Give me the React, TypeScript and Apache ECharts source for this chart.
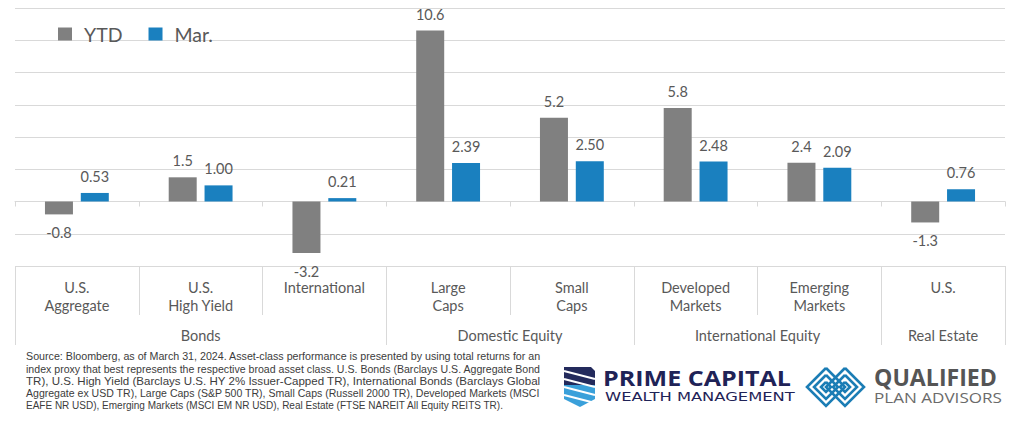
import React, { useEffect, useRef } from "react";
import * as echarts from "echarts";

const categories = [
  "U.S.\nAggregate",
  "U.S.\nHigh Yield",
  "International",
  "Large\nCaps",
  "Small\nCaps",
  "Developed\nMarkets",
  "Emerging\nMarkets",
  "U.S.",
];
const groupNames = ["Bonds", "Domestic Equity", "International Equity", "Real Estate"];
const groupSpans = [3, 2, 2, 1];
const ytdValues = [-0.8, 1.5, -3.2, 10.6, 5.2, 5.8, 2.4, -1.3];
const marValues = [0.53, 1.0, 0.21, 2.39, 2.5, 2.48, 2.09, 0.76];
const seriesNames = ["YTD", "Mar."];
const yMin = -4;
const yMax = 12;
const yInterval = 2;
const sourceLines = [
  "Source: Bloomberg, as of March 31, 2024. Asset-class performance is presented by using total returns for an",
  "index proxy that best represents the respective broad asset class. U.S. Bonds (Barclays U.S. Aggregate Bond",
  "TR), U.S. High Yield (Barclays U.S. HY 2% Issuer-Capped TR), International Bonds (Barclays Global",
  "Aggregate ex USD TR), Large Caps (S&P 500 TR), Small Caps (Russell 2000 TR), Developed Markets (MSCI",
  "EAFE NR USD), Emerging Markets (MSCI EM NR USD), Real Estate (FTSE NAREIT All Equity REITS TR).",
];

const GRAY = "#808080";
const BLUE = "#1A80BF";
const TEXT = "#595959";
const LINE = "#D9D9D9";
const FONT = "Lato";

function measure(text: string, font: string): number {
  try {
    const c = document.createElement("canvas").getContext("2d");
    if (!c) return 0;
    c.font = font;
    return c.measureText(text).width;
  } catch (e) {
    return 0;
  }
}

export default function App() {
  const ref = useRef<HTMLDivElement>(null);
  useEffect(() => {
    document.body.style.margin = "0";
    if (!ref.current) return;
    const chart = echarts.init(ref.current, null, { renderer: "svg" });

    const n = categories.length;
    const groupData: string[] = new Array(2 * n + 1).fill("");
    const boundarySet = new Set<number>();
    const labelSet = new Set<number>();
    let start = 0;
    boundarySet.add(0);
    groupSpans.forEach((span, i) => {
      const end = start + span;
      groupData[start + end] = groupNames[i];
      labelSet.add(start + end);
      boundarySet.add(end * 2);
      start = end;
    });

    const mkData = (vals: number[], digits: number) =>
      vals.map((v) => ({
        value: v,
        label: {
          position: v < 0 ? "bottom" : "top",
          distance: v < 0 ? 11 : 9,
          formatter: () => v.toFixed(digits),
        },
      }));

    const gridLeft = 15;
    const gridRight = 19;

    const graphic: any[] = [];
    const srcFont = '10px "Liberation Sans"';
    const srcWidth = 515;
    sourceLines.forEach((t, i) => {
      let sx = 1;
      if (i < sourceLines.length - 1) {
        const w = measure(t, srcFont);
        if (w > 0) sx = Math.min(1.2, srcWidth / w);
      }
      graphic.push({
        type: "text",
        x: 26,
        y: 357 + i * 12.2,
        scaleX: sx,
        style: {
          text: t,
          fill: "#3c3c3c",
          font: srcFont,
          verticalAlign: "middle",
          align: "left",
        },
      });
    });
    // Prime Capital shield
    graphic.push({
      type: "polygon",
      shape: { points: [[564, 367], [591, 367], [595, 371], [595, 385], [564, 385]] },
      style: { fill: "#232A5C" },
    });
    graphic.push({
      type: "polygon",
      shape: { points: [[564, 385], [595, 385], [595, 399], [580, 407], [564, 399]] },
      style: { fill: "#3AA0DA" },
    });
    [371, 379, 387, 395].forEach((y0) => {
      graphic.push({
        type: "line",
        shape: { x1: 564, y1: y0, x2: 595, y2: y0 + 8 },
        style: { stroke: "#ffffff", lineWidth: 2.2 },
      });
    });
    const pcFont = 'bold 22px "Open Sans"';
    const pcW = measure("PRIME CAPITAL", pcFont);
    graphic.push({
      type: "text",
      x: 603,
      y: 378,
      scaleX: pcW > 0 ? 188 / pcW : 1.15,
      style: {
        text: "PRIME CAPITAL",
        fill: "#1F2357",
        font: pcFont,
        verticalAlign: "middle",
      },
    });
    const wmFont = '11.5px "DejaVu Sans"';
    const wmW = measure("WEALTH MANAGEMENT", wmFont);
    graphic.push({
      type: "text",
      x: 605,
      y: 397,
      scaleX: wmW > 0 ? 190 / wmW : 1.38,
      style: {
        text: "WEALTH MANAGEMENT",
        fill: "#1F2357",
        font: wmFont,
        verticalAlign: "middle",
      },
    });
    // Qualified Plan Advisors icon
    const diamond = (cx: number, cy: number, r: number) => [
      [cx, cy - r],
      [cx + r, cy],
      [cx, cy + r],
      [cx - r, cy],
      [cx, cy - r],
    ];
    [
      [826, 387, 19],
      [826, 387, 12],
      [826, 387, 5],
      [845, 387, 19],
      [845, 387, 12],
      [845, 387, 5],
    ].forEach(([cx, cy, r]) => {
      graphic.push({
        type: "polyline",
        shape: { points: diamond(cx, cy, r) },
        style: { stroke: "#1B7DB5", lineWidth: 2.6, fill: "none" },
      });
    });
    const qFont = 'bold 23px "Open Sans"';
    const qW = measure("QUALIFIED", qFont);
    graphic.push({
      type: "text",
      x: 874,
      y: 377,
      scaleX: qW > 0 ? 123 / qW : 1,
      style: {
        text: "QUALIFIED",
        fill: "#555555",
        font: qFont,
        verticalAlign: "middle",
      },
    });
    const paFont = '15px "Open Sans"';
    const paW = measure("PLAN ADVISORS", paFont);
    graphic.push({
      type: "text",
      x: 874,
      y: 397.5,
      scaleX: paW > 0 ? 128 / paW : 1,
      style: {
        text: "PLAN ADVISORS",
        fill: "#6a6a6a",
        font: paFont,
        verticalAlign: "middle",
      },
    });

    const option: any = {
      animation: false,
      textStyle: { fontFamily: FONT },
      legend: {
        data: seriesNames,
        left: 58,
        top: 24,
        padding: 0,
        icon: "rect",
        itemWidth: 14,
        itemHeight: 13,
        itemGap: 26,
        textStyle: { fontSize: 19.5, color: TEXT, fontFamily: FONT, padding: [0, 0, 0, 7] },
      },
      grid: [
        { left: gridLeft, right: gridRight, top: 8, height: 258 },
        { left: gridLeft, right: gridRight, top: 217, height: 49 },
        { left: gridLeft, right: gridRight, top: 217, height: 49 },
      ],
      xAxis: [
        {
          type: "category",
          gridIndex: 0,
          data: categories,
          axisLine: { onZero: true, lineStyle: { color: LINE } },
          axisTick: { show: true, interval: 0, length: 5, lineStyle: { color: LINE } },
          axisLabel: { show: false },
        },
        {
          type: "category",
          gridIndex: 1,
          position: "bottom",
          data: categories,
          axisLine: { show: false },
          axisTick: { show: true, interval: 0, length: 49, lineStyle: { color: LINE } },
          axisLabel: {
            show: true,
            interval: 0,
            margin: 12,
            color: TEXT,
            fontSize: 14.5,
            lineHeight: 18,
            fontFamily: FONT,
            verticalAlign: "top",
          },
        },
        {
          type: "category",
          gridIndex: 2,
          position: "bottom",
          boundaryGap: false,
          data: groupData,
          axisLine: { show: false },
          axisTick: {
            show: true,
            interval: (idx: number) => boundarySet.has(idx),
            length: 79,
            lineStyle: { color: LINE },
          },
          axisLabel: {
            show: true,
            interval: (idx: number) => labelSet.has(idx),
            margin: 62,
            color: TEXT,
            fontSize: 14.5,
            fontFamily: FONT,
            verticalAlign: "top",
          },
        },
      ],
      yAxis: [
        {
          type: "value",
          gridIndex: 0,
          min: yMin,
          max: yMax,
          interval: yInterval,
          axisLine: { show: false },
          axisTick: { show: false },
          axisLabel: { show: false },
          splitLine: { show: true, lineStyle: { color: LINE } },
        },
        { type: "value", gridIndex: 1, show: false, min: 0, max: 1, splitLine: { show: false } },
        { type: "value", gridIndex: 2, show: false, min: 0, max: 1, splitLine: { show: false } },
      ],
      series: [
        {
          name: seriesNames[0],
          type: "bar",
          xAxisIndex: 0,
          yAxisIndex: 0,
          data: mkData(ytdValues, 1),
          barWidth: 28,
          barGap: "28%",
          itemStyle: { color: GRAY },
          label: { show: true, color: TEXT, fontSize: 14.5, fontFamily: FONT },
        },
        {
          name: seriesNames[1],
          type: "bar",
          xAxisIndex: 0,
          yAxisIndex: 0,
          data: mkData(marValues, 2),
          barWidth: 28,
          barGap: "28%",
          itemStyle: { color: BLUE },
          label: { show: true, color: TEXT, fontSize: 14.5, fontFamily: FONT },
        },
      ],
      graphic,
    };
    chart.setOption(option);
    return () => chart.dispose();
  }, []);
  return <div ref={ref} style={{ width: 1024, height: 428 }} />;
}
